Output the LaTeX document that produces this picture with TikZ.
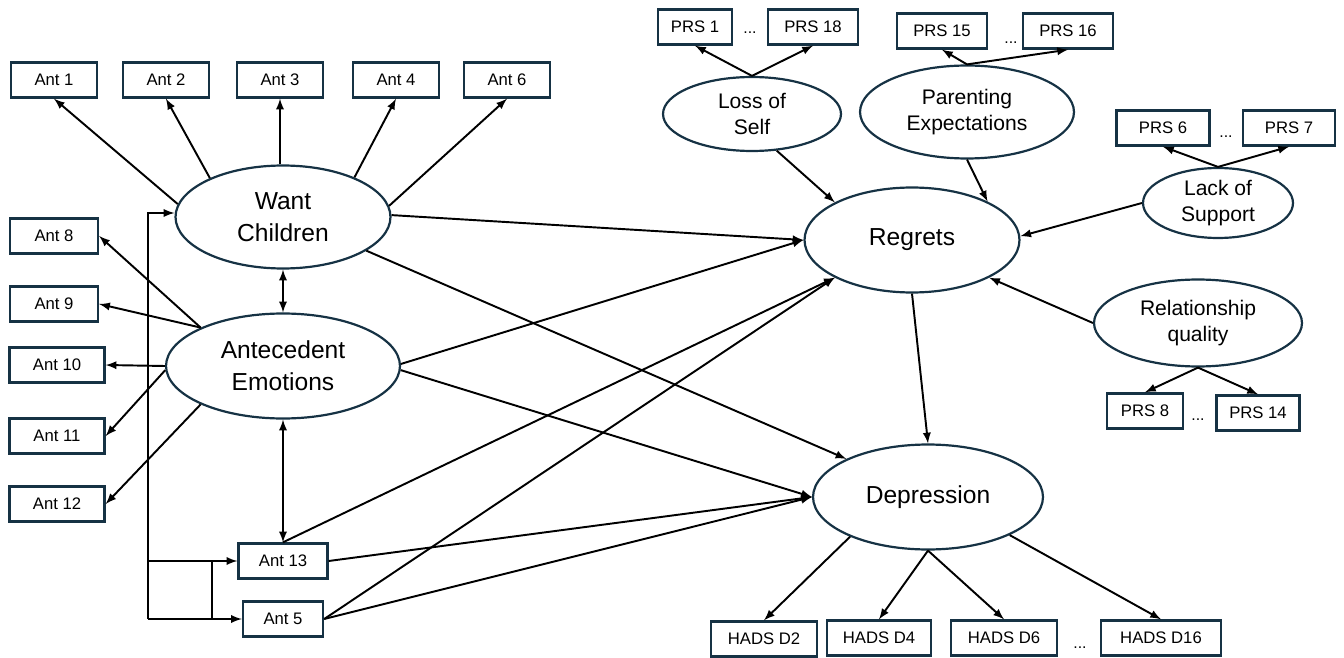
\documentclass[tikz,border=0pt]{standalone}
\usepackage{fontspec}
\setmainfont{Liberation Sans}
\usepackage{tikz}
\usetikzlibrary{arrows,shapes.geometric}
\definecolor{deepnavy}{RGB}{22, 50, 68}

\begin{document}
\begin{tikzpicture}[x=0.02cm, y=-0.02cm, >=latex, line width=1.1pt,
            item/.style={draw=deepnavy, line width=1.35pt, fill=white, minimum height=0.70cm, minimum width=1.72cm, inner sep=0pt, font=\fontsize{9.5}{11}\selectfont},
            bigvar/.style={ellipse, draw=deepnavy, line width=1.25pt, inner sep=0pt, align=center, font=\fontsize{14}{18}\selectfont},
            smallvar/.style={ellipse, draw=deepnavy, line width=1.25pt, inner sep=0pt, align=center, font=\fontsize{12}{15}\selectfont},
            gap/.style={inner sep=0pt, font=\fontsize{9}{11}\selectfont}]
            \useasboundingbox (0,0) rectangle (1344,658);
            % latent variables
            \node[bigvar,   minimum width=4.30cm, minimum height=2.06cm] (want)     at ( 283, 217) {Want\\Children};
            \node[bigvar,   minimum width=4.68cm, minimum height=2.10cm] (antemo)   at ( 283, 366) {Antecedent\\Emotions};
            \node[bigvar,   minimum width=4.30cm, minimum height=2.10cm] (regrets)  at ( 912, 240) {Regrets};
            \node[bigvar,   minimum width=4.60cm, minimum height=2.10cm] (depress)  at ( 928, 497) {Depression};
            \node[smallvar, minimum width=3.56cm, minimum height=1.48cm] (lossself) at ( 752, 114) {Loss of\\Self};
            \node[smallvar, minimum width=4.28cm, minimum height=1.86cm] (parexp)   at ( 967, 112) {Parenting\\Expectations};
            \node[smallvar, minimum width=3.00cm, minimum height=1.40cm] (lacksup)  at (1218, 203) {Lack of\\Support};
            \node[smallvar, minimum width=4.16cm, minimum height=1.74cm] (relqual)  at (1198, 323) {Relationship\\quality};
            % antecedent items
            \node[item]                      (ant1)  at (  54,  80) {Ant 1};
            \node[item]                      (ant2)  at ( 166,  80) {Ant 2};
            \node[item]                      (ant3)  at ( 280,  80) {Ant 3};
            \node[item]                      (ant4)  at ( 396,  80) {Ant 4};
            \node[item]                      (ant6)  at ( 507,  80) {Ant 6};
            \node[item, minimum width=1.76cm] (ant8)  at (  54, 236) {Ant 8};
            \node[item, minimum width=1.76cm] (ant9)  at (  54, 304) {Ant 9};
            \node[item, minimum width=1.90cm] (ant10) at (  57, 365) {Ant 10};
            \node[item, minimum width=1.90cm] (ant11) at (  57, 436) {Ant 11};
            \node[item, minimum width=1.90cm] (ant12) at (  57, 504) {Ant 12};
            \node[item, minimum width=1.78cm] (ant13) at ( 283, 561) {Ant 13};
            \node[item, minimum width=1.60cm] (ant5)  at ( 283, 619) {Ant 5};
            % PRS items
            \node[item, minimum width=1.48cm] (prs1)  at ( 695,  27) {PRS 1};
            \node[item, minimum width=1.80cm] (prs18) at ( 813,  27) {PRS 18};
            \node[item, minimum width=1.80cm] (prs15) at ( 942,  31) {PRS 15};
            \node[item, minimum width=1.80cm] (prs16) at (1068,  31) {PRS 16};
            \node[item, minimum width=1.86cm] (prs6)  at (1163, 128) {PRS 6};
            \node[item, minimum width=1.84cm] (prs7)  at (1289, 128) {PRS 7};
            \node[item, minimum width=1.52cm] (prs8)  at (1145, 411) {PRS 8};
            \node[item, minimum width=1.66cm] (prs14) at (1258, 413) {PRS 14};
            % HADS items
            \node[item, minimum width=2.12cm] (hadsA) at ( 764, 639) {HADS D2};
            \node[item, minimum width=2.08cm] (hadsB) at ( 879, 638) {HADS D4};
            \node[item, minimum width=2.12cm] (hadsC) at (1004, 638) {HADS D6};
            \node[item, minimum width=2.40cm] (hadsD) at (1161, 638) {HADS D16};
            \node[gap] (gapA) at ( 750,  33) {...};
            \node[gap] (gapB) at (1011,  43) {...};
            \node[gap] (gapC) at (1226, 137) {...};
            \node[gap] (gapD) at (1198, 420) {...};
            \node[gap] (gapE) at (1080, 648) {...};
            % loadings
            \foreach \a/\b in {173/ant1, 152/ant2, 29/ant4, 6/ant6}
                \draw[->] (want.\a) -- (\b.south);
            \draw[->] (ant3.south |- want.north) -- (ant3.south);
            \foreach \a/\b in {155/ant8, 155/ant9, 180/ant10, 182/ant11, 205/ant12}
                \draw[->] (antemo.\a) -- (\b.east);
            \draw[->] (lossself.north) -- (prs1.south);
            \draw[->] (lossself.north) -- (prs18.south);
            \draw[->] (parexp.north)   -- (prs15.south);
            \draw[->] (parexp.north)   -- (prs16.south);
            \draw[->] (lacksup.north)  -- (prs6.south);
            \draw[->] (lacksup.north)  -- (prs7.south);
            \draw[->] (relqual.south)  -- (prs8.north);
            \draw[->] (relqual.south)  -- (prs14.north);
            \draw[->] (depress.207)    -- (hadsA.north);
            \draw[->] (depress.south)  -- (hadsB.north);
            \draw[->] (depress.south)  -- (hadsC.north);
            \draw[->] (depress.-25)    -- (hadsD.north);
            % covariances
            \draw[<->] (want.south)   -- (antemo.north);
            \draw[<->] (antemo.south) -- (ant13.north);
            \coordinate (railtop) at (148, 213);
            \coordinate (railbot) at (148, 619);
            \coordinate (railmid) at (212, 561);
            \draw[->] (railbot) -- (railtop) -- (railtop -| want.west);
            \draw[->] (railbot) -- (ant5.west);
            \draw[->] (railbot |- ant13.west) -- (ant13.west);
            \draw     (railmid) -- (railmid |- ant5.west);
            % paths
            \draw[->] (want.1)         -- (regrets.west);
            \draw[->] (antemo.1)       -- (regrets.west);
            \draw[->] (ant13.north)    -- (regrets.206);
            \draw[->] (ant5.east)      -- (regrets.206);
            \draw[->] (lossself.-56)   -- (regrets.154);
            \draw[->] (parexp.south)   -- (regrets.27);
            \draw[->] (lacksup.west)   -- (regrets.2);
            \draw[->] (relqual.west)   -- (regrets.-26);
            \draw[->] (regrets.south)  -- (depress.north);
            \draw[->] (want.-22)       -- (depress.155);
            \draw[->] (antemo.-2)      -- (depress.west);
            \draw[->] (ant13.east)     -- (depress.west);
            \draw[->] (ant5.east)      -- (depress.west);
\end{tikzpicture}
\end{document}
